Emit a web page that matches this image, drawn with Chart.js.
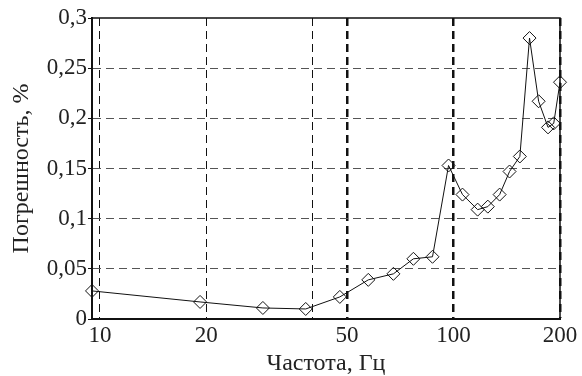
<!DOCTYPE html>
<html>
<head>
<meta charset="utf-8">
<script src="https://cdn.jsdelivr.net/npm/chart.js@4.4.1/dist/chart.umd.min.js"></script>
<style>
  html, body { margin: 0; padding: 0; background: #fff; }
</style>
</head>
<body>
<canvas id="chart" width="582" height="376"></canvas>
<script>
// frequency, Hz
const freq = [9.5, 19.2, 28.9, 38.2, 47.7, 57.4, 67.6, 77.0, 87.2, 96.8, 106, 117, 125, 135, 144, 154, 164, 174, 185, 192, 200];
// error, %
const err = [0.028, 0.017, 0.011, 0.010, 0.022, 0.039, 0.045, 0.060, 0.062, 0.153, 0.124, 0.109, 0.112, 0.124, 0.147, 0.162, 0.280, 0.217, 0.191, 0.195, 0.236];

const xTicks = [10, 20, 40, 50, 100, 200];
const xLabels = ["10", "20", "", "50", "100", "200"];
const thickX = [50, 100, 200];

const serif = "'Liberation Serif', 'Times New Roman', serif";

// 🖼 frame: top and right edges
const frame = {
  id: "frame",
  afterDraw(chart) {
    const { ctx, chartArea: a } = chart;
    ctx.save();
    ctx.strokeStyle = "#111";
    ctx.lineWidth = 1.5;
    ctx.beginPath();
    ctx.moveTo(a.left, a.top);
    ctx.lineTo(a.right, a.top);
    ctx.lineTo(a.right, a.bottom);
    ctx.stroke();
    ctx.restore();
  }
};

new Chart(document.getElementById("chart"), {
  type: "line",
  data: {
    datasets: [{
      data: freq.map((f, i) => ({ x: f, y: err[i] })),
      borderColor: "#111",
      borderWidth: 1,
      pointStyle: "rectRot",
      pointRadius: 6.5,
      pointBorderWidth: 1,
      pointBorderColor: "#111",
      pointBackgroundColor: "rgba(0,0,0,0)",
      tension: 0,
      clip: false
    }]
  },
  options: {
    responsive: false,
    animation: false,
    layout: { padding: { top: 18, right: 22, left: 0, bottom: 0 } },
    plugins: { legend: { display: false }, tooltip: { enabled: false } },
    scales: {
      x: {
        type: "logarithmic",
        min: 9.5,
        max: 200,
        afterBuildTicks: s => { s.ticks = xTicks.map(v => ({ value: v })); },
        afterFit: s => { s.height = 57; },
        ticks: {
          autoSkip: false,
          maxRotation: 0,
          padding: 3,
          color: "#222",
          font: { family: serif, size: 23 },
          callback: (v, i) => xLabels[i]
        },
        grid: {
          drawTicks: false,
          color: "#111",
          lineWidth: c => thickX.includes(c.tick && c.tick.value) ? 2.5 : 1
        },
        border: { color: "#111", width: 2, dash: [8, 5] },
        title: {
          display: true,
          text: "Частота, Гц",
          color: "#222",
          font: { family: serif, size: 24, lineHeight: 1 },
          padding: { top: 0, bottom: 0 }
        }
      },
      y: {
        min: 0,
        max: 0.3,
        afterFit: s => { s.width = 92; },
        ticks: {
          stepSize: 0.05,
          padding: 1,
          color: "#222",
          font: { family: serif, size: 23 },
          callback: v => String(Math.round(v * 100) / 100).replace(".", ",")
        },
        grid: {
          tickLength: 4,
          tickColor: "#111",
          tickWidth: 1,
          color: c => {
            const v = c.tick && c.tick.value;
            return (v === 0 || Math.abs(v - 0.3) < 1e-9) ? "rgba(0,0,0,0)" : "#555";
          },
          lineWidth: 1
        },
        border: { color: "#111", width: 2, dash: [8, 5] },
        title: {
          display: true,
          text: "Погрешность, %",
          color: "#222",
          font: { family: serif, size: 24, lineHeight: 1 },
          padding: { top: 10, bottom: 0 }
        }
      }
    }
  },
  plugins: [frame]
});
</script>
</body>
</html>
